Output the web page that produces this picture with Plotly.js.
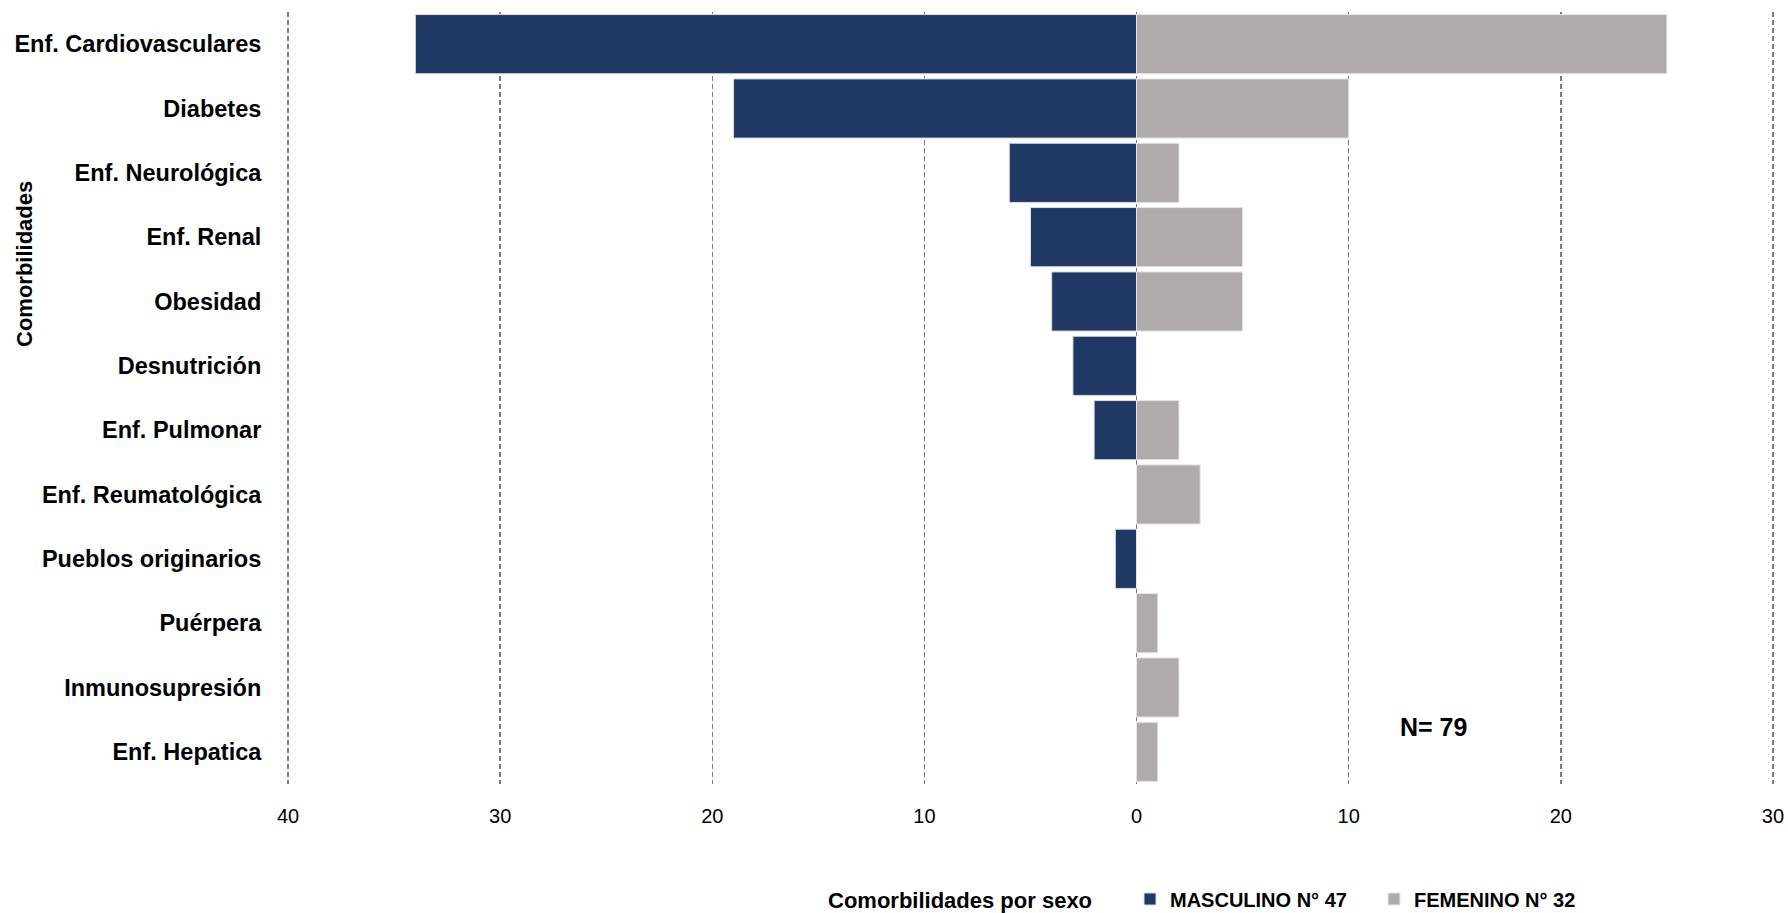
<!DOCTYPE html>
<html>
<head>
<meta charset="utf-8">
<script src="https://cdn.plot.ly/plotly-3.0.1.min.js"></script>
<style>html,body{margin:0;padding:0;background:#fff;}#chart{width:1788px;height:913px;}</style>
</head>
<body>
<div id="chart"></div>
<script>
const categories = ["Enf. Cardiovasculares","Diabetes","Enf. Neurológica","Enf. Renal","Obesidad","Desnutrición","Enf. Pulmonar","Enf. Reumatológica","Pueblos originarios","Puérpera","Inmunosupresión","Enf. Hepatica"];
const masculino = [34,19,6,5,4,3,2,0,1,0,0,0];
const femenino = [25,10,2,5,5,0,2,3,0,1,2,1];
const tickValues = [-40,-30,-20,-10,0,10,20,30];
const tickLabels = ["40","30","20","10","0","10","20","30"];
const seriesNames = ["MASCULINO N° 47","FEMENINO N° 32"];
const legendTitle = "Comorbilidades por sexo";
const axisTitle = "Comorbilidades";
const noteText = "N= 79";

const FONT = "'Liberation Sans', Arial, sans-serif";

const traces = [
  {type:'bar', orientation:'h', name:seriesNames[0], y:categories, x:masculino.map(v=>-v),
   marker:{color:'#203864', line:{color:'#d6dce4', width:1}}, hoverinfo:'skip'},
  {type:'bar', orientation:'h', name:seriesNames[1], y:categories, x:femenino,
   marker:{color:'#afabab', line:{color:'#e7e6e6', width:1}}, hoverinfo:'skip'}
];

const PW = 1487, PH = 772;
const layout = {
  width:1788, height:913,
  margin:{l:287, r:14, t:12, b:129, autoexpand:false},
  barmode:'relative', bargap:0.08,
  paper_bgcolor:'#fff', plot_bgcolor:'#fff',
  font:{family:FONT, color:'#000'},
  xaxis:{range:[-40.05,30.05], tickvals:tickValues, ticktext:tickLabels,
    showgrid:true, gridcolor:'#7a7a7a', gridwidth:1.5, griddash:'5px,3px',
    zeroline:false, showline:false, ticks:'outside', ticklen:14, tickcolor:'rgba(0,0,0,0)',
    tickfont:{family:FONT, size:20, color:'#000'}},
  yaxis:{autorange:'reversed', showgrid:false, zeroline:false, showline:false,
    ticks:'outside', ticklen:20, tickcolor:'rgba(0,0,0,0)',
    tickfont:{family:FONT, size:23.5, color:'#000', weight:'bold'}},
  showlegend:true,
  legend:{orientation:'h', x:(1130-287)/PW, xanchor:'left', y:(784-899)/PH, yanchor:'middle',
    font:{family:FONT, size:20, color:'#000', weight:'bold'},
    entrywidth:199, entrywidthmode:'pixels',
    traceorder:'normal', itemclick:false},
  annotations:[
    {text:legendTitle, xref:'paper', yref:'paper', x:(826-287)/PW, y:(784-900)/PH,
     showarrow:false, xanchor:'left', yanchor:'middle', font:{family:FONT, size:22, color:'#000', weight:'bold'}},
    {text:axisTitle, textangle:-90, xref:'paper', yref:'paper', x:(24-287)/PW, y:(784-264)/PH,
     showarrow:false, xanchor:'center', yanchor:'middle', font:{family:FONT, size:22, color:'#000', weight:'bold'}},
    {text:noteText, xref:'paper', yref:'paper', x:(1433-287)/PW, y:(784-727)/PH,
     showarrow:false, xanchor:'center', yanchor:'middle', font:{family:FONT, size:25, color:'#000', weight:'bold'}}
  ]
};

Plotly.newPlot('chart', traces, layout, {displayModeBar:false, staticPlot:true});
</script>
</body>
</html>
